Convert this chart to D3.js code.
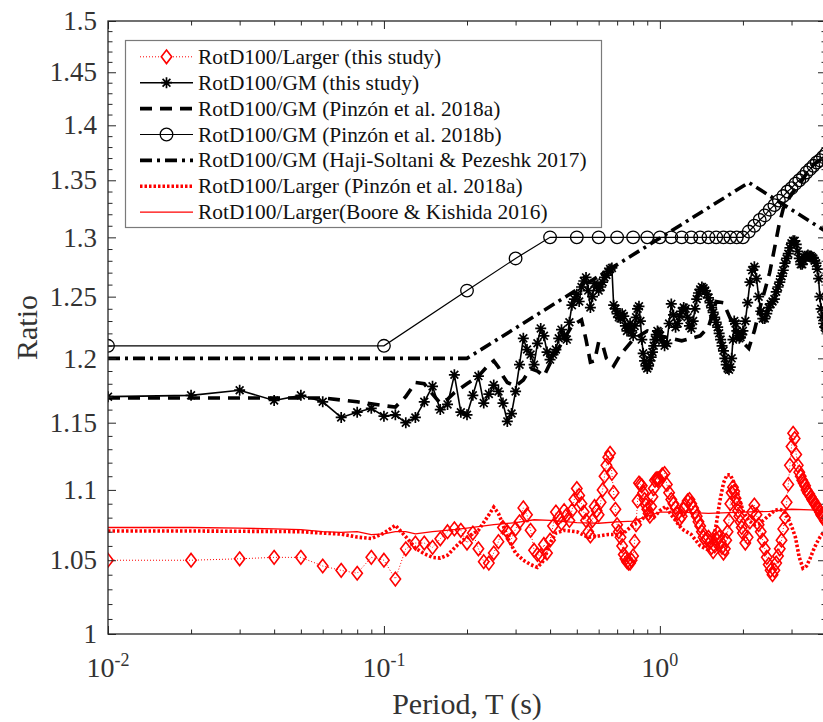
<!DOCTYPE html>
<html>
<head>
<meta charset="utf-8">
<script src="https://cdn.jsdelivr.net/npm/d3@7"></script>
<style>
  html, body { margin: 0; padding: 0; background: #fff; }
  svg { display: block; font-family: "Liberation Serif", "Times New Roman", serif; }
</style>
</head>
<body>
<svg id="chart" width="823" height="722"></svg>
<script>
// ---------- Data ----------
// Periods (s) shared by the two "this study" series
const thisStudyPeriods = [
  0.01,0.02,0.03,0.04,0.05,0.06,0.07,0.08,0.09,0.10,
  0.11,0.12,0.13,0.14,0.15,0.16,0.17,0.18,0.19,0.20,
  0.21,0.22,0.23,0.24,0.25,0.26,0.27,0.28,0.29,0.30,
  0.31,0.32,0.33,0.34,0.35,0.36,0.37,0.38,0.39,0.40,
  0.41,0.42,0.43,0.44,0.45,0.46,0.47,0.48,0.49,0.50,
  0.51,0.52,0.53,0.54,0.55,0.56,0.57,0.58,0.59,0.60,
  0.61,0.62,0.63,0.64,0.65,0.66,0.67,0.68,0.69,0.70,
  0.71,0.72,0.73,0.74,0.75,0.76,0.77,0.78,0.79,0.80,
  0.81,0.82,0.83,0.84,0.85,0.86,0.87,0.88,0.89,0.90,
  0.91,0.92,0.93,0.94,0.95,0.96,0.97,0.98,0.99,1.00,
  1.02,1.04,1.06,1.08,1.10,1.12,1.14,1.16,1.18,1.20,
  1.22,1.24,1.26,1.28,1.30,1.32,1.34,1.36,1.38,1.40,
  1.42,1.44,1.46,1.48,1.50,1.52,1.54,1.56,1.58,1.60,
  1.62,1.64,1.66,1.68,1.70,1.72,1.74,1.76,1.78,1.80,
  1.82,1.84,1.86,1.88,1.90,1.92,1.94,1.96,1.98,2.00,
  2.04,2.08,2.12,2.16,2.20,2.24,2.28,2.32,2.36,2.40,
  2.44,2.48,2.52,2.56,2.60,2.64,2.68,2.72,2.76,2.80,
  2.84,2.88,2.92,2.96,3.00,3.04,3.08,3.12,3.16,3.20,
  3.24,3.28,3.32,3.36,3.40,3.44,3.48,3.52,3.56,3.60,
  3.64,3.68,3.72,3.76,3.80,3.84,3.88,3.92,3.96,4.00
];

// RotD100/Larger (this study)
const thisStudyLarger = [
  1.050,1.050,1.051,1.052,1.052,1.046,1.043,1.041,1.052,1.050,
  1.037,1.058,1.062,1.062,1.059,1.065,1.070,1.072,1.071,1.062,
  1.069,1.058,1.049,1.048,1.055,1.063,1.073,1.070,1.065,1.072,
  1.077,1.087,1.082,1.071,1.057,1.054,1.053,1.061,1.055,1.064,
  1.074,1.084,1.080,1.076,1.085,1.082,1.078,1.085,1.093,1.101,
  1.096,1.090,1.084,1.078,1.070,1.067,1.078,1.088,1.085,1.082,
  1.091,1.100,1.110,1.118,1.124,1.127,1.112,1.098,1.086,1.075,
  1.070,1.066,1.060,1.054,1.051,1.049,1.048,1.048,1.050,1.053,
  1.063,1.075,1.092,1.105,1.104,1.103,1.098,1.093,1.089,1.086,
  1.083,1.081,1.088,1.095,1.101,1.107,1.108,1.108,1.108,1.107,
  1.111,1.112,1.104,1.098,1.093,1.090,1.087,1.083,1.079,1.081,
  1.086,1.089,1.092,1.093,1.090,1.087,1.084,1.081,1.077,1.074,
  1.070,1.066,1.064,1.065,1.066,1.063,1.059,1.056,1.060,1.065,
  1.069,1.066,1.063,1.059,1.055,1.058,1.064,1.070,1.078,1.090,
  1.098,1.102,1.099,1.094,1.090,1.085,1.081,1.077,1.073,1.069,
  1.062,1.066,1.077,1.084,1.089,1.082,1.075,1.070,1.064,1.058,
  1.052,1.047,1.043,1.040,1.043,1.048,1.053,1.058,1.064,1.072,
  1.080,1.091,1.104,1.118,1.132,1.142,1.138,1.126,1.118,1.113,
  1.110,1.107,1.105,1.103,1.100,1.098,1.097,1.095,1.093,1.092,
  1.090,1.089,1.087,1.086,1.084,1.082,1.081,1.080,1.078,1.077
];

// RotD100/GM (this study)
const thisStudyGM = [
  1.170,1.171,1.175,1.167,1.171,1.166,1.154,1.158,1.161,1.155,
  1.156,1.150,1.154,1.166,1.178,1.160,1.164,1.187,1.158,1.156,
  1.171,1.186,1.165,1.172,1.179,1.174,1.165,1.151,1.157,1.174,
  1.195,1.216,1.207,1.203,1.195,1.212,1.224,1.218,1.205,1.199,
  1.203,1.207,1.216,1.223,1.218,1.215,1.229,1.243,1.248,1.252,
  1.246,1.258,1.263,1.266,1.255,1.241,1.250,1.261,1.258,1.255,
  1.258,1.262,1.266,1.268,1.271,1.273,1.274,1.243,1.240,1.236,
  1.233,1.232,1.236,1.234,1.226,1.222,1.226,1.228,1.222,1.218,
  1.226,1.233,1.240,1.242,1.230,1.215,1.204,1.198,1.194,1.192,
  1.194,1.198,1.201,1.205,1.210,1.215,1.219,1.222,1.221,1.218,
  1.214,1.210,1.212,1.228,1.244,1.235,1.225,1.228,1.234,1.238,
  1.241,1.240,1.233,1.226,1.224,1.230,1.240,1.248,1.253,1.256,
  1.258,1.257,1.255,1.252,1.249,1.245,1.241,1.237,1.233,1.229,
  1.225,1.220,1.215,1.210,1.206,1.200,1.195,1.192,1.191,1.193,
  1.200,1.215,1.230,1.228,1.222,1.218,1.216,1.217,1.219,1.222,
  1.230,1.245,1.262,1.272,1.275,1.265,1.250,1.238,1.232,1.232,
  1.236,1.241,1.244,1.246,1.248,1.254,1.258,1.262,1.267,1.272,
  1.278,1.282,1.286,1.291,1.295,1.297,1.297,1.294,1.288,1.282,
  1.277,1.277,1.280,1.283,1.284,1.285,1.284,1.284,1.283,1.282,
  1.280,1.278,1.273,1.265,1.250,1.240,1.233,1.228,1.225,1.224
];

// RotD100/GM (Pinzón et al. 2018a)
const pinzonAGMPeriods = [
  0.01,0.06,0.08,0.10,0.11,0.12,0.13,0.14,0.15,0.16,
  0.17,0.18,0.20,0.22,0.24,0.25,0.26,0.27,0.28,0.30,
  0.32,0.34,0.36,0.38,0.40,0.44,0.48,0.52,0.54,0.56,
  0.58,0.60,0.62,0.64,0.68,0.72,0.80,0.90,1.00,1.20,
  1.40,1.50,1.60,1.70,1.80,1.95,2.10,2.20,2.30,2.40,
  2.50,2.60,2.70,2.80,3.00,3.20,3.40,3.60,4.00
];
const pinzonAGM = [
  1.169,1.169,1.166,1.163,1.162,1.170,1.181,1.180,1.172,1.165,
  1.168,1.173,1.180,1.186,1.195,1.198,1.193,1.186,1.181,1.178,
  1.183,1.192,1.190,1.186,1.196,1.212,1.226,1.231,1.215,1.197,
  1.198,1.213,1.211,1.200,1.194,1.203,1.215,1.222,1.218,1.214,
  1.218,1.225,1.246,1.245,1.232,1.215,1.208,1.222,1.240,1.255,
  1.270,1.290,1.310,1.325,1.338,1.346,1.356,1.364,1.372
];

// RotD100/GM (Pinzón et al. 2018b)
const pinzonBGMPeriods = [
  0.01,0.1,0.2,0.3,0.4,0.5,0.6,0.7,0.8,0.9,1.0,
  1.1,1.2,1.3,1.4,1.5,1.6,1.7,1.8,1.9,2.0,
  2.1,2.2,2.3,2.4,2.5,2.6,2.7,2.8,2.9,3.0,
  3.1,3.2,3.3,3.4,3.5,3.6,3.7,3.8,3.9,4.0
];
const pinzonBGM = [
  1.210,1.210,1.255,1.282,1.300,1.300,1.300,1.300,1.300,1.300,1.300,
  1.300,1.300,1.300,1.300,1.300,1.300,1.300,1.300,1.300,1.300,
  1.305,1.310,1.315,1.319,1.324,1.328,1.332,1.336,1.340,1.343,
  1.347,1.350,1.353,1.357,1.360,1.363,1.366,1.368,1.371,1.374
];

// RotD100/GM (Haji-Soltani & Pezeshk 2017)
const hajiGMPeriods = [0.01, 0.2, 2.1, 4.0];
const hajiGM = [1.200, 1.200, 1.348, 1.305];

// RotD100/Larger (Pinzón et al. 2018a)
const pinzonALargerPeriods = [
  0.01,0.02,0.03,0.04,0.05,0.06,0.07,0.08,0.09,0.10,
  0.11,0.12,0.13,0.14,0.15,0.16,0.17,0.18,0.19,0.20,
  0.22,0.24,0.25,0.26,0.27,0.28,0.30,0.32,0.34,0.36,
  0.38,0.40,0.42,0.45,0.50,0.55,0.60,0.65,0.70,0.75,
  0.80,0.85,0.90,0.95,1.00,1.05,1.10,1.20,1.30,1.40,
  1.50,1.55,1.60,1.65,1.70,1.75,1.80,1.85,1.90,2.00,
  2.10,2.20,2.30,2.40,2.50,2.60,2.70,2.80,2.90,3.00,
  3.10,3.20,3.30,3.40,3.50,3.60,3.70,3.80,3.90,4.00
];
const pinzonALarger = [
  1.0705,1.0705,1.0703,1.0702,1.0700,1.0690,1.0683,1.0662,1.0652,1.0690,
  1.0745,1.0665,1.0585,1.0545,1.0520,1.0515,1.0535,1.0585,1.0630,1.0660,
  1.0710,1.0820,1.0875,1.0830,1.0750,1.0660,1.0550,1.0500,1.0470,1.0450,
  1.0500,1.0620,1.0690,1.0710,1.0700,1.0660,1.0670,1.0680,1.0680,1.0700,
  1.0750,1.0780,1.0820,1.0800,1.0850,1.0880,1.0820,1.0720,1.0680,1.0600,
  1.0570,1.0620,1.0750,1.0920,1.1050,1.1110,1.1110,1.1060,1.1000,1.0850,
  1.0780,1.0750,1.0760,1.0790,1.0820,1.0850,1.0860,1.0850,1.0800,1.0740,
  1.0660,1.0520,1.0445,1.0460,1.0510,1.0570,1.0620,1.0660,1.0690,1.0720
];

// RotD100/Larger (Boore & Kishida 2016)
const booreLargerPeriods = [
  0.01,0.02,0.03,0.04,0.05,0.06,0.07,0.08,0.09,0.10,0.11,0.12,0.13,
  0.15,0.18,0.20,0.25,0.30,0.35,0.40,0.50,0.60,0.70,0.80,0.90,1.00,
  1.20,1.50,2.00,2.50,3.00,3.50,4.00
];
const booreLarger = [
  1.0730,1.0730,1.0725,1.0720,1.0715,1.0700,1.0695,1.0700,1.0680,1.0685,1.0700,1.0700,1.0685,
  1.0700,1.0715,1.0725,1.0750,1.0765,1.0785,1.0780,1.0765,1.0760,1.0770,1.0775,1.0810,1.0840,
  1.0840,1.0830,1.0840,1.0845,1.0860,1.0855,1.0850
];

// Axis ticks and labels
const xMajorTicks = [0.01, 0.1, 1];
const xTickExponents = ["-2", "-1", "0"];
const xMinorTicks = [0.02,0.03,0.04,0.05,0.06,0.07,0.08,0.09,
                     0.2,0.3,0.4,0.5,0.6,0.7,0.8,0.9,2,3,4];
const yMajorTicks = [1,1.05,1.1,1.15,1.2,1.25,1.3,1.35,1.4,1.45,1.5];
const yTickLabels = ["1","1.05","1.1","1.15","1.2","1.25","1.3","1.35","1.4","1.45","1.5"];
const yMinorTicks = [1.01,1.02,1.03,1.04,1.06,1.07,1.08,1.09,1.11,1.12,1.13,1.14,
                     1.16,1.17,1.18,1.19,1.21,1.22,1.23,1.24,1.26,1.27,1.28,1.29,
                     1.31,1.32,1.33,1.34,1.36,1.37,1.38,1.39,1.41,1.42,1.43,1.44,
                     1.46,1.47,1.48,1.49];
const xAxisTitle = "Period, T (s)";
const yAxisTitle = "Ratio";

const legendLabels = [
  "RotD100/Larger (this study)",
  "RotD100/GM (this study)",
  "RotD100/GM (Pinzón et al. 2018a)",
  "RotD100/GM (Pinzón et al. 2018b)",
  "RotD100/GM (Haji-Soltani & Pezeshk 2017)",
  "RotD100/Larger (Pinzón et al. 2018a)",
  "RotD100/Larger(Boore & Kishida 2016)"
];

// ---------- Layout & scales ----------
const svg = d3.select("#chart");
const box = { left: 108, right: 826, top: 21, bottom: 634 };
const axisColor = "#262626";
const textColor = "#333333";
const RED = "#ff0000";

const x = d3.scaleLog().domain([0.01, 4]).range([box.left, box.right]);
const y = d3.scaleLog().domain([1, 1.5]).range([box.bottom, box.top]);

svg.append("rect").attr("width", 823).attr("height", 722).attr("fill", "#fff");

svg.append("defs").append("clipPath").attr("id", "plotClip")
  .append("rect")
  .attr("x", box.left).attr("y", box.top)
  .attr("width", box.right - box.left).attr("height", box.bottom - box.top);

// ---------- Series ----------
const plotArea = svg.append("g").attr("clip-path", "url(#plotClip)");
const line = d3.line().x(d => x(d[0])).y(d => y(d[1]));
const pairs = (ts, vs) => ts.map((t, i) => [t, vs[i]]);

const diamondPath = "M0,-6.8L5.2,0L0,6.8L-5.2,0Z";
const starPath = "M-5.5,0H5.5M0,-5.5V5.5M-3.9,-3.9L3.9,3.9M-3.9,3.9L3.9,-3.9";

const styles = [
  { stroke: RED, width: 1, dash: "1,2", marker: "diamond" },
  { stroke: "#000", width: 1.6, dash: null, marker: "star" },
  { stroke: "#000", width: 3.6, dash: "12,8", marker: null },
  { stroke: "#000", width: 1.2, dash: null, marker: "circle" },
  { stroke: "#000", width: 3.6, dash: "12,5,3,5", marker: null },
  { stroke: RED, width: 3.6, dash: "2.5,2", marker: null },
  { stroke: RED, width: 1.3, dash: null, marker: null }
];

const seriesData = [
  pairs(thisStudyPeriods, thisStudyLarger),
  pairs(thisStudyPeriods, thisStudyGM),
  pairs(pinzonAGMPeriods, pinzonAGM),
  pairs(pinzonBGMPeriods, pinzonBGM),
  pairs(hajiGMPeriods, hajiGM),
  pairs(pinzonALargerPeriods, pinzonALarger),
  pairs(booreLargerPeriods, booreLarger)
];

function drawMarker(sel, kind, color) {
  if (kind === "diamond") {
    sel.append("path").attr("d", diamondPath)
      .attr("fill", "none").attr("stroke", color).attr("stroke-width", 1.6);
  } else if (kind === "star") {
    sel.append("path").attr("d", starPath)
      .attr("fill", "none").attr("stroke", color).attr("stroke-width", 1.7);
  } else if (kind === "circle") {
    sel.append("circle").attr("r", 6.3)
      .attr("fill", "none").attr("stroke", color).attr("stroke-width", 1.3);
  }
}

seriesData.forEach((data, i) => {
  const s = styles[i];
  const g = plotArea.append("g");
  g.append("path").datum(data).attr("d", line)
    .attr("fill", "none").attr("stroke", s.stroke)
    .attr("stroke-width", s.width)
    .attr("stroke-dasharray", s.dash)
    .attr("stroke-linejoin", "miter");
  if (s.marker) {
    g.selectAll("g.mk").data(data).join("g").attr("class", "mk")
      .attr("transform", d => `translate(${x(d[0])},${y(d[1])})`)
      .each(function () { drawMarker(d3.select(this), s.marker, s.stroke); });
  }
});

// ---------- Axes ----------
function tickRow(gen, transform, values, size) {
  svg.append("g").attr("transform", transform)
    .call(gen.tickValues(values).tickSize(size).tickSizeOuter(0).tickFormat(""))
    .call(g => g.select(".domain").remove())
    .call(g => g.selectAll("line").attr("stroke", axisColor).attr("stroke-width", 1));
}
tickRow(d3.axisBottom(x), `translate(0,${box.bottom})`, xMajorTicks, -8);
tickRow(d3.axisBottom(x), `translate(0,${box.bottom})`, xMinorTicks, -4.5);
tickRow(d3.axisTop(x), `translate(0,${box.top})`, xMajorTicks, -8);
tickRow(d3.axisTop(x), `translate(0,${box.top})`, xMinorTicks, -4.5);
tickRow(d3.axisLeft(y), `translate(${box.left},0)`, yMajorTicks, -8);
tickRow(d3.axisLeft(y), `translate(${box.left},0)`, yMinorTicks, -4.5);
tickRow(d3.axisRight(y), `translate(${box.right},0)`, yMajorTicks, -8);
tickRow(d3.axisRight(y), `translate(${box.right},0)`, yMinorTicks, -4.5);

svg.append("rect")
  .attr("x", box.left).attr("y", box.top)
  .attr("width", box.right - box.left).attr("height", box.bottom - box.top)
  .attr("fill", "none").attr("stroke", axisColor).attr("stroke-width", 1.3);

// y tick labels
svg.append("g").selectAll("text").data(yMajorTicks).join("text")
  .attr("x", 97).attr("y", d => y(d)).attr("dy", "0.34em")
  .attr("text-anchor", "end").attr("font-size", 27).attr("fill", textColor)
  .text((d, i) => yTickLabels[i]);

// x tick labels (powers of ten)
const xl = svg.append("g").selectAll("text").data(xMajorTicks).join("text")
  .attr("x", d => x(d)).attr("y", 677)
  .attr("text-anchor", "middle").attr("font-size", 28).attr("fill", textColor);
xl.append("tspan").text("10");
xl.append("tspan").attr("dy", -11).attr("font-size", 18)
  .text((d, i) => xTickExponents[i]);

// axis titles
svg.append("text")
  .attr("x", (box.left + box.right) / 2).attr("y", 714)
  .attr("text-anchor", "middle").attr("font-size", 30).attr("fill", textColor)
  .text(xAxisTitle);
svg.append("text")
  .attr("transform", `translate(37,${(box.top + box.bottom) / 2}) rotate(-90)`)
  .attr("text-anchor", "middle").attr("font-size", 30).attr("fill", textColor)
  .text(yAxisTitle);

// ---------- Legend ----------
const legend = svg.append("g");
legend.append("rect")
  .attr("x", 125.5).attr("y", 40.5).attr("width", 476).attr("height", 187)
  .attr("fill", "#fff").attr("stroke", "#7a7a7a").attr("stroke-width", 1.2);

legendLabels.forEach((label, i) => {
  const s = styles[i];
  const cy = 56.8 + i * 25.9;
  const row = legend.append("g");
  row.append("line")
    .attr("x1", 140).attr("x2", 193).attr("y1", cy).attr("y2", cy)
    .attr("stroke", s.stroke).attr("stroke-width", s.width)
    .attr("stroke-dasharray", s.dash);
  if (s.marker) {
    const m = row.append("g").attr("transform", `translate(166.5,${cy})`);
    if (s.marker === "diamond") {
      m.append("rect").attr("x", -6).attr("y", -8).attr("width", 12).attr("height", 16).attr("fill", "#fff");
    }
    drawMarker(m, s.marker, s.stroke);
  }
  row.append("text")
    .attr("x", 198).attr("y", cy + 7)
    .attr("font-size", 21.4).attr("fill", "#111")
    .text(label);
});
</script>
</body>
</html>
